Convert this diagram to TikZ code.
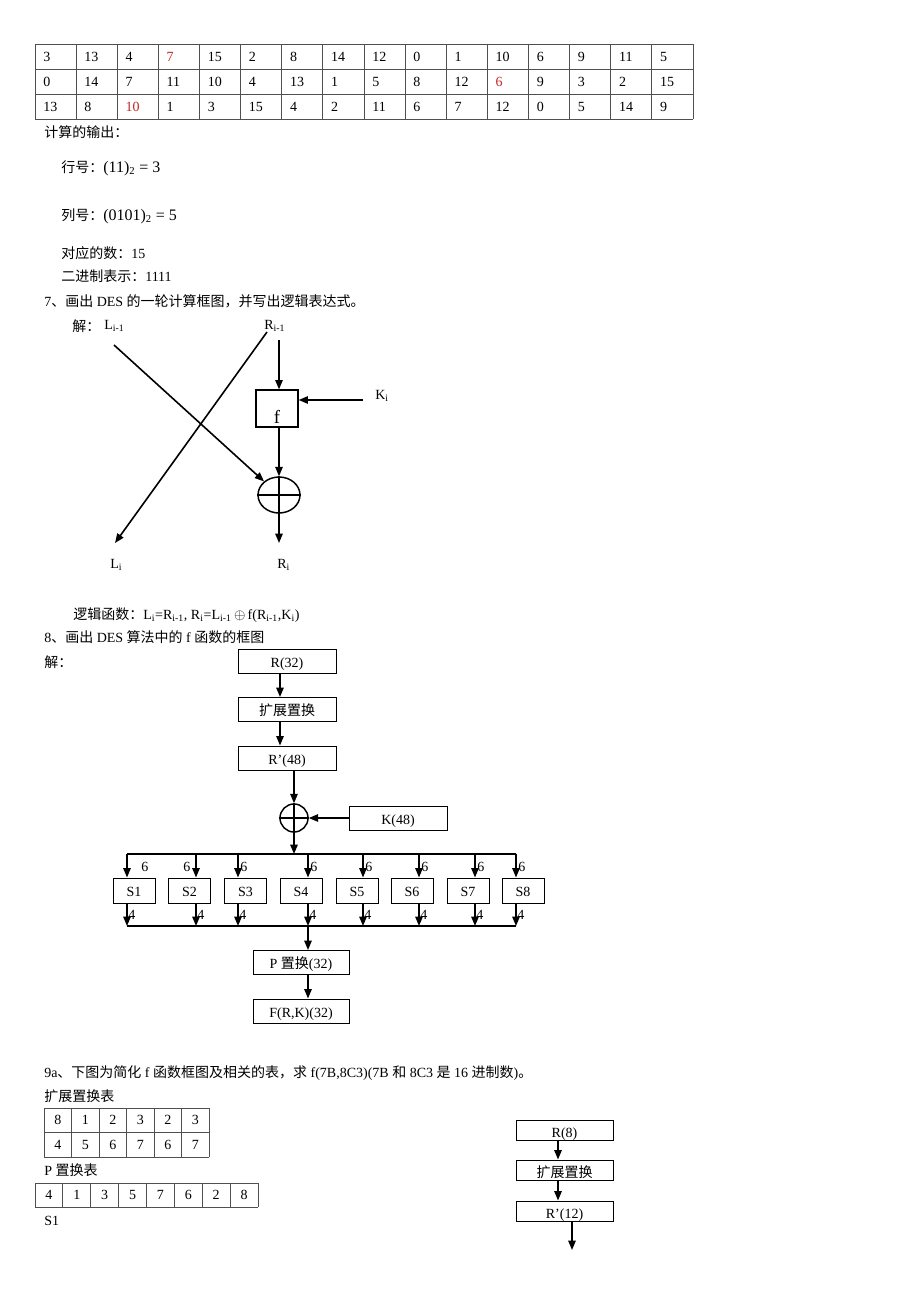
\documentclass[tikz,border=0pt]{standalone}
\usepackage{fontspec}
\setmainfont{Liberation Serif}
\newfontfamily\cjkf{Noto Sans CJK SC}
\newcommand\zh[1]{{\cjkf #1}}
\newcommand\lowtxt[2]{\raisebox{#1}[0pt][0pt]{#2}}
\usetikzlibrary{arrows.meta,shapes.geometric}
\definecolor{dred}{RGB}{190,40,40}
\definecolor{tgray}{RGB}{80,80,80}
\begin{document}
\begin{tikzpicture}[x=0.75pt,y=-0.75pt,
  every node/.style={font=\fontsize{10.5}{12}\selectfont},
  txt/.style={anchor=west,inner sep=0pt},
  ctxt/.style={inner sep=0pt},
  tline/.style={draw=tgray,line width=0.6pt},
  ln/.style={line width=1.2pt},
  arr/.style={line width=1.2pt,-{Triangle[length=7pt,width=5.5pt]}},
  bx/.style={draw,line width=0.75pt,inner sep=0pt,minimum width=73.5pt,minimum height=18pt},
  sbx/.style={draw,line width=0.75pt,inner sep=0pt,minimum width=31.5pt,minimum height=18.75pt},
  xorc/.style={draw,line width=1.1pt,inner sep=0pt}
]
\useasboundingbox[fill=white] (0,0) rectangle (920,1302);

% ---------- top S-box table ----------
\foreach \i in {0,...,16} \draw[tline] ({35+\i*41.125},44) -- ({35+\i*41.125},119);
\foreach \j in {0,...,3} \draw[tline] (35,{44+\j*25}) -- (693,{44+\j*25});
\foreach \row [count=\r] in {{3,13,4,\textcolor{dred}{7},15,2,8,14,12,0,1,10,6,9,11,5},{0,14,7,11,10,4,13,1,5,8,12,\textcolor{dred}{6},9,3,2,15},{13,8,\textcolor{dred}{10},1,3,15,4,2,11,6,7,12,0,5,14,9}}
  \foreach \v [count=\c] in \row
    \node[txt] (t\r-\c) at ({35+(\c-1)*41.125+8},{44+(\r-0.5)*25}) {\v};

% ---------- text lines ----------
\node[txt] (calc) at (44,132) {\zh{计算的输出：}};
\node[txt] (hang) at (61,168) {\zh{行号：}{\fontsize{12}{14}\selectfont(11)\textsubscript{2} = 3}};
\node[txt] (lie) at (61,216) {\zh{列号：}{\fontsize{12}{14}\selectfont(0101)\textsubscript{2} = 5}};
\node[txt] (dui) at (61,253) {\zh{对应的数：}15};
\node[txt] (bin) at (61,276) {\zh{二进制表示：}1111};
\node[txt] (q7) at (44,301) {7\zh{、画出} DES \zh{的一轮计算框图，并写出逻辑表达式。}};

% ---------- diagram 7 ----------
\node[txt] (jie7) at (72,326) {\zh{解：}};
\node[txt] (Lprev) at (104,326) {L\textsubscript{i-1}};
\node[txt] (Rprev) at (264,326) {R\textsubscript{i-1}};
\node[draw,line width=0.9pt,minimum width=31.5pt,minimum height=27.75pt,inner sep=0pt] (fb) at (277,408.5) {\lowtxt{-11.5pt}{\fontsize{14}{16}\selectfont f}};
\node[xorc,ellipse,minimum width=31.5pt,minimum height=27pt] (x7) at (279,495) {};
\draw[ln] (x7.west) -- (x7.east) (x7.north) -- (x7.south);
\node[txt] (Ki) at (375,396) {K\textsubscript{i}};
\node[txt] (Li) at (110,565) {L\textsubscript{i}};
\node[txt] (Ri) at (277,565) {R\textsubscript{i}};
\coordinate (a1) at (114,345);
\coordinate (b1) at (267,332);
\coordinate (b2) at (115,543);
\coordinate (r1) at (279,340);
\coordinate (k1) at (363,400);
\coordinate (r2) at (279,543);
\draw[arr] (a1) -- (x7);
\draw[arr] (b1) -- (b2);
\draw[arr] (r1) -- (r1 |- fb.north);
\draw[arr] (k1) -- (k1 -| fb.east);
\draw[arr] (r1 |- fb.south) -- (x7.north);
\draw[arr] (x7.south) -- (r2);
\node[txt] (logic) at (73,615) {\zh{逻辑函数：}L\textsubscript{i}=R\textsubscript{i-1}, R\textsubscript{i}=L\textsubscript{i-1}\,$\oplus$\,f(R\textsubscript{i-1},K\textsubscript{i})};

\node[txt] (q8) at (44,637) {8\zh{、画出} DES \zh{算法中的} f \zh{函数的框图}};
\node[txt] (jie8) at (44,662) {\zh{解：}};

% ---------- diagram 8 ----------
\coordinate (ax) at (280,0);
\node[bx] (R32) at (287,661) {\lowtxt{-4.6pt}{R(32)}};
\node[bx] (ext) at (287,709.5) {\lowtxt{-4.6pt}{\zh{扩展置换}}};
\node[bx] (R48) at (287,758) {\lowtxt{-4.6pt}{R’(48)}};
\node[xorc,circle,minimum size=21pt] (x8) at (294,818) {};
\draw[line width=0.9pt] (x8.west) -- (x8.east) (x8.north) -- (x8.south);
\node[bx] (K48) at (398,818) {\lowtxt{-4.6pt}{K(48)}};
\draw[arr] (ax |- R32.south) -- (ax |- ext.north);
\draw[arr] (ax |- ext.south) -- (ax |- R48.north);
\draw[arr] (x8 |- R48.south) -- (x8.north);
\draw[arr] (K48.west) -- (x8.east);
\coordinate (bus1) at (127,854);
\coordinate (bus2) at (516,854);
\draw[arr] (x8.south) -- (x8 |- bus1);
\draw[ln] (bus1) -- (bus2);
\foreach \cx [count=\k] in {134,189.5,245.5,301,357,412,468,523}
  \node[sbx] (S\k) at (\cx,890.5) {\lowtxt{-4.3pt}{S\k}};
\foreach \px/\lx [count=\k] in {127/141,196/183,238/240,308/310,363/365,419/421,475/477,516/518} {
  \coordinate (tp\k) at (\px,854);
  \coordinate (bt\k) at (\px,926);
  \draw[arr] (tp\k) -- (tp\k |- S\k.north);
  \draw[arr] (bt\k |- S\k.south) -- (bt\k);
  \node[txt] (six\k) at (\lx,867) {6};
  \node[txt] (four\k) at ({\px+1},915) {4};
}
\draw[ln] (bt1) -- (bt8);
\node[bx,minimum width=72pt] (P) at (301,962.5) {\lowtxt{-4.6pt}{P \zh{置换}(32)}};
\node[bx,minimum width=72pt] (F) at (301,1011) {\lowtxt{-4.6pt}{F(R,K)(32)}};
\draw[arr] (bt4) -- (bt4 |- P.north);
\draw[arr] (bt4 |- P.south) -- (bt4 |- F.north);

% ---------- section 9a ----------
\node[txt] (q9) at (44,1073) {9a\zh{、下图为简化} f \zh{函数框图及相关的表，求} f(7B,8C3)(7B \zh{和} 8C3 \zh{是} 16 \zh{进制数})\zh{。}};
\node[txt] (etab) at (44,1096) {\zh{扩展置换表}};
\foreach \i in {0,...,6} \draw[tline] ({44+\i*27.5},1108) -- ({44+\i*27.5},1157);
\foreach \j in {0,1,2} \draw[tline] (44,{1108+\j*24.5}) -- (209,{1108+\j*24.5});
\foreach \row [count=\r] in {{8,1,2,3,2,3},{4,5,6,7,6,7}}
  \foreach \v [count=\c] in \row
    \node[ctxt] (e\r-\c) at ({44+(\c-0.5)*27.5},{1108+(\r-0.5)*24.5}) {\v};
\node[txt] (ptab) at (44,1170) {P \zh{置换表}};
\foreach \i in {0,...,8} \draw[tline] ({35+\i*27.875},1183) -- ({35+\i*27.875},1207);
\foreach \j in {0,1} \draw[tline] (35,{1183+\j*24}) -- (258,{1183+\j*24});
\foreach \v [count=\c] in {4,1,3,5,7,6,2,8}
  \node[ctxt] (p\c) at ({35+(\c-0.5)*27.875},1195) {\v};
\node[txt] (s1lab) at (44,1221) {S1};

\node[bx,minimum width=72.75pt,minimum height=15pt] (R8) at (564.5,1130) {\lowtxt{-5.6pt}{R(8)}};
\node[bx,minimum width=72.75pt,minimum height=15pt] (ext2) at (564.5,1170) {\lowtxt{-5.6pt}{\zh{扩展置换}}};
\node[bx,minimum width=72.75pt,minimum height=15pt] (R12) at (564.5,1211) {\lowtxt{-5.6pt}{R’(12)}};
\coordinate (cx1) at (558,0);
\coordinate (end9) at (572,1250);
\draw[arr] (cx1 |- R8.south) -- (cx1 |- ext2.north);
\draw[arr] (cx1 |- ext2.south) -- (cx1 |- R12.north);
\draw[arr] (end9 |- R12.south) -- (end9);
\end{tikzpicture}
\end{document}
